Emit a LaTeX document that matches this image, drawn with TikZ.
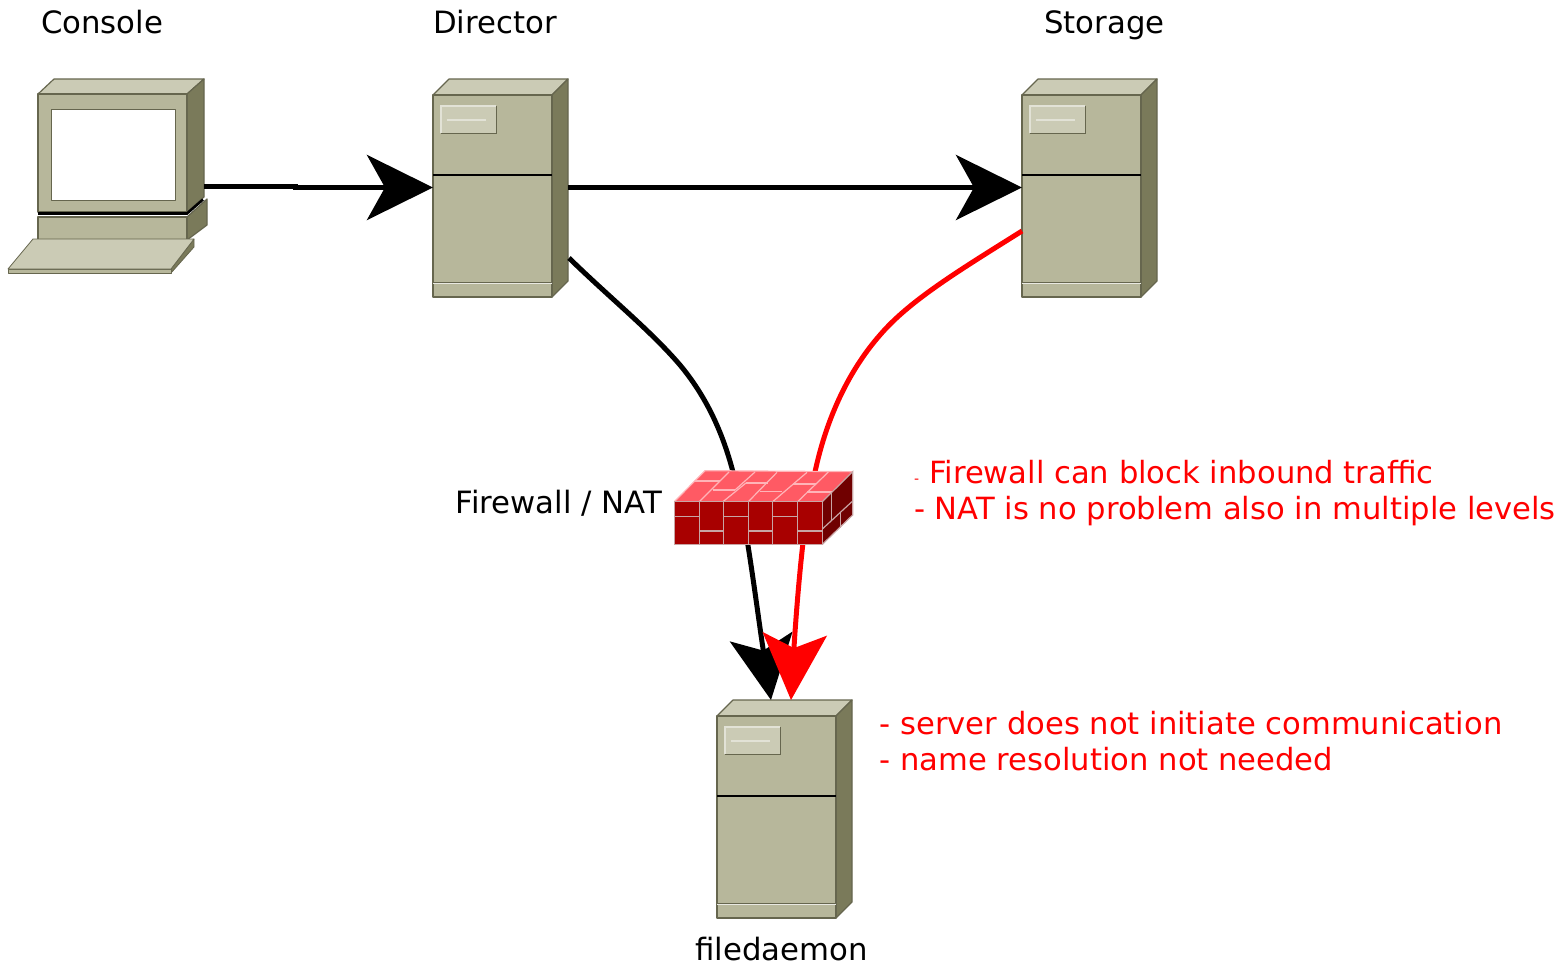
\documentclass[tikz,border=0pt]{standalone}
\usepackage{fontspec}
\setmainfont{DejaVu Sans}
\usetikzlibrary{arrows.meta}
\definecolor{hwfront}{HTML}{B7B79B}
\definecolor{hwtop}{HTML}{CBCBB5}
\definecolor{hwside}{HTML}{7A7A5A}
\definecolor{hwedge}{HTML}{66664E}
\definecolor{badge}{HTML}{CBCBB5}
\definecolor{fwtop}{HTML}{FF5A64}
\definecolor{fwfront}{HTML}{A80000}
\definecolor{fwside}{HTML}{700000}
\definecolor{fwline}{HTML}{C8A4A4}
\definecolor{fwtopline}{HTML}{FFB4B8}
\tikzset{
  x=1pt,y=-1pt,
  hw/.style={draw=hwedge,line width=1.2pt,line join=round},
  lbl/.style={anchor=base west,inner sep=0pt,font=\fontsize{30.75}{36}\selectfont},
  note/.style={anchor=base west,inner sep=0pt,font=\fontsize{30.6}{36}\selectfont,text=red},
  hidden/.style={inner sep=0pt,draw=none},
  wire/.style={line width=5pt,black},
  redwire/.style={wire,red},
  bigtip/.style={-{Stealth[length=66pt,width=65pt,inset=18pt]}},
  brick/.style={draw=fwline,line width=1.2pt},
  topbrick/.style={draw=fwtopline,line width=1.2pt},
}
\newcommand{\hwserver}[3]{%
  \begin{scope}[shift={(#2,#3)}]
    \filldraw[hw,fill=hwtop] (0,16)--(16,0)--(135,0)--(119,16)--cycle;
    \filldraw[hw,fill=hwside] (119,16)--(135,0)--(135,202)--(119,218)--cycle;
    \filldraw[hw,fill=hwfront] (0,16) rectangle (119,218);
    \draw[black,line width=2.6pt] (0,96)--(119,96);
    \draw[hwedge,line width=1pt] (0,203)--(119,203);
    \draw[white!70!hwfront,line width=1pt] (0,204.2)--(119,204.2);
    \filldraw[draw=hwedge,fill=badge,line width=1pt] (8,27) rectangle (63,54);
    \draw[white!45!badge,line width=1.2pt] (8,54)--(8,27)--(63,27);
    \draw[white!45!badge,line width=1.3pt] (14,41)--(53,41);
    \node[hidden,minimum width=135pt,minimum height=218pt] (#1) at (67.5,109) {};
  \end{scope}}
\begin{document}
\begin{tikzpicture}
\useasboundingbox (0,0) rectangle (1567,964);
% servers
\hwserver{director}{433}{79}
\hwserver{storage}{1022}{79}
\hwserver{filed}{717}{700}
% console
\filldraw[hw,fill=hwside] (187,217)--(207,199)--(207,225)--(187,240)--cycle;
\filldraw[hw,fill=hwfront] (38,217) rectangle (187,240);
\filldraw[hw,fill=hwtop] (38,94)--(54,79)--(204,79)--(187,94)--cycle;
\filldraw[hw,fill=hwside] (187,94)--(204,79)--(204,197)--(187,212)--cycle;
\filldraw[hw,fill=hwfront] (38,94) rectangle (187,212);
\draw[black,line width=2.6pt] (38,213.5)--(187,213.5)--(203,199.5);
\filldraw[hw,fill=white,line width=1pt] (51,109) rectangle (175,200);
\filldraw[hw,fill=hwside,line width=.8pt] (171,269)--(194,239)--(194,247)--(171,273)--cycle;
\filldraw[hw,fill=hwfront,line width=.8pt] (8,269) rectangle (171,273);
\filldraw[hw,fill=hwtop,line width=.8pt] (33,239)--(194,239)--(171,269)--(8,269)--cycle;
\node[hidden,minimum width=199pt,minimum height=195pt] (console) at (107.5,175.5) {};
% named connector ends
\coordinate (consoleport) at (204,186);
\coordinate (dirin) at (433,187.5);
\coordinate (dirout) at (568,187.5);
\coordinate (stin) at (1022,187.5);
\coordinate (dirport) at (569,258);
\coordinate (stport) at (1022,231);
\coordinate (fdblack) at (771,700);
\coordinate (fdred) at (791,700);
% connectors
\draw[wire,bigtip] (consoleport) -- (295,186) -- (295,187.5) -- (dirin);
\draw[wire,bigtip] (dirout) -- (stin);
\draw[wire,-{Stealth[length=64pt,width=63pt,inset=14pt]}] (dirport)
  .. controls (610,298) and (650,330) .. (680,365)
  .. controls (705,395) and (722,430) .. (733,472)
  .. controls (745,510) and (757,610) .. (fdblack);
\draw[redwire,-{Stealth[length=66pt,width=64pt,inset=14pt]}] (stport)
  .. controls (960,270) and (910,300) .. (880,335)
  .. controls (845,375) and (825,425) .. (815,472)
  .. controls (803,510) and (795,630) .. (fdred);
% firewall (coordinates of a 3x crop)
\begin{scope}[shift={(660,455)},x=1/3*1pt,y=-1/3*1pt]
  \fill[fwtop] (43,140)--(135,47)--(578,50)--(487,140)--cycle;
  \fill[fwfront] (43,140) rectangle (487,268);
  \fill[fwside] (487,140)--(578,50)--(578,180)--(487,268)--cycle;
  \draw[topbrick] (43,140)--(135,47)--(578,50);
  \draw[topbrick] (118,140)--(207,51);
  \draw[topbrick] (189,140)--(258,84);
  \draw[topbrick] (225,105)--(285,51);
  \draw[topbrick] (265,140)--(351,52);
  \draw[topbrick] (338,140)--(441,52);
  \draw[topbrick] (413,140)--(505,51);
  \draw[topbrick] (105,78)--(180,78);
  \draw[topbrick] (159,105)--(225,105);
  \draw[topbrick] (258,84)--(325,84);
  \draw[topbrick] (300,110)--(365,110);
  \draw[topbrick] (399,87)--(467,87);
  \draw[topbrick] (441,111)--(516,111);
  \draw[brick] (43,140) rectangle (487,268);
  \foreach \vx in {118,190,265,338,413} \draw[brick] (\vx,140)--(\vx,268);
  \foreach \xa/\xb in {43/118,190/265,338/413} \draw[brick] (\xa,185)--(\xb,185);
  \foreach \xa/\xb in {118/190,265/338,413/487} \draw[brick] (\xa,228)--(\xb,228);
  \draw[brick] (487,140)--(578,50)--(578,180)--(487,268);
  \draw[brick] (487,222)--(578,138);
  \draw[brick] (515,114)--(515,197);
  \draw[brick] (541,173)--(541,220);
  \node[hidden,minimum width=535pt,minimum height=221pt] (firewall) at (310.5,157.5) {};
\end{scope}
% labels
\node[lbl] (lconsole) at (41,33.5) {Console};
\node[lbl] (ldirector) at (433,33.5) {Director};
\node[lbl] (lstorage) at (1044,33.5) {Storage};
\node[lbl] (lfirewall) at (455.5,513.5) {Firewall / NAT};
\node[lbl] (lfiled) at (695,960) {filedaemon};
\node[note] (n1) at (914,483.5) {\makebox[15pt][l]{\fontsize{14}{16}\selectfont -}Firewall can block inbound traffic};
\node[note] (n2) at (914,519.5) {- NAT is no problem also in multiple levels};
\node[note] (n3) at (879.5,734.5) {- server does not initiate communication};
\node[note] (n4) at (879.5,770.5) {- name resolution not needed};
\end{tikzpicture}
\end{document}
